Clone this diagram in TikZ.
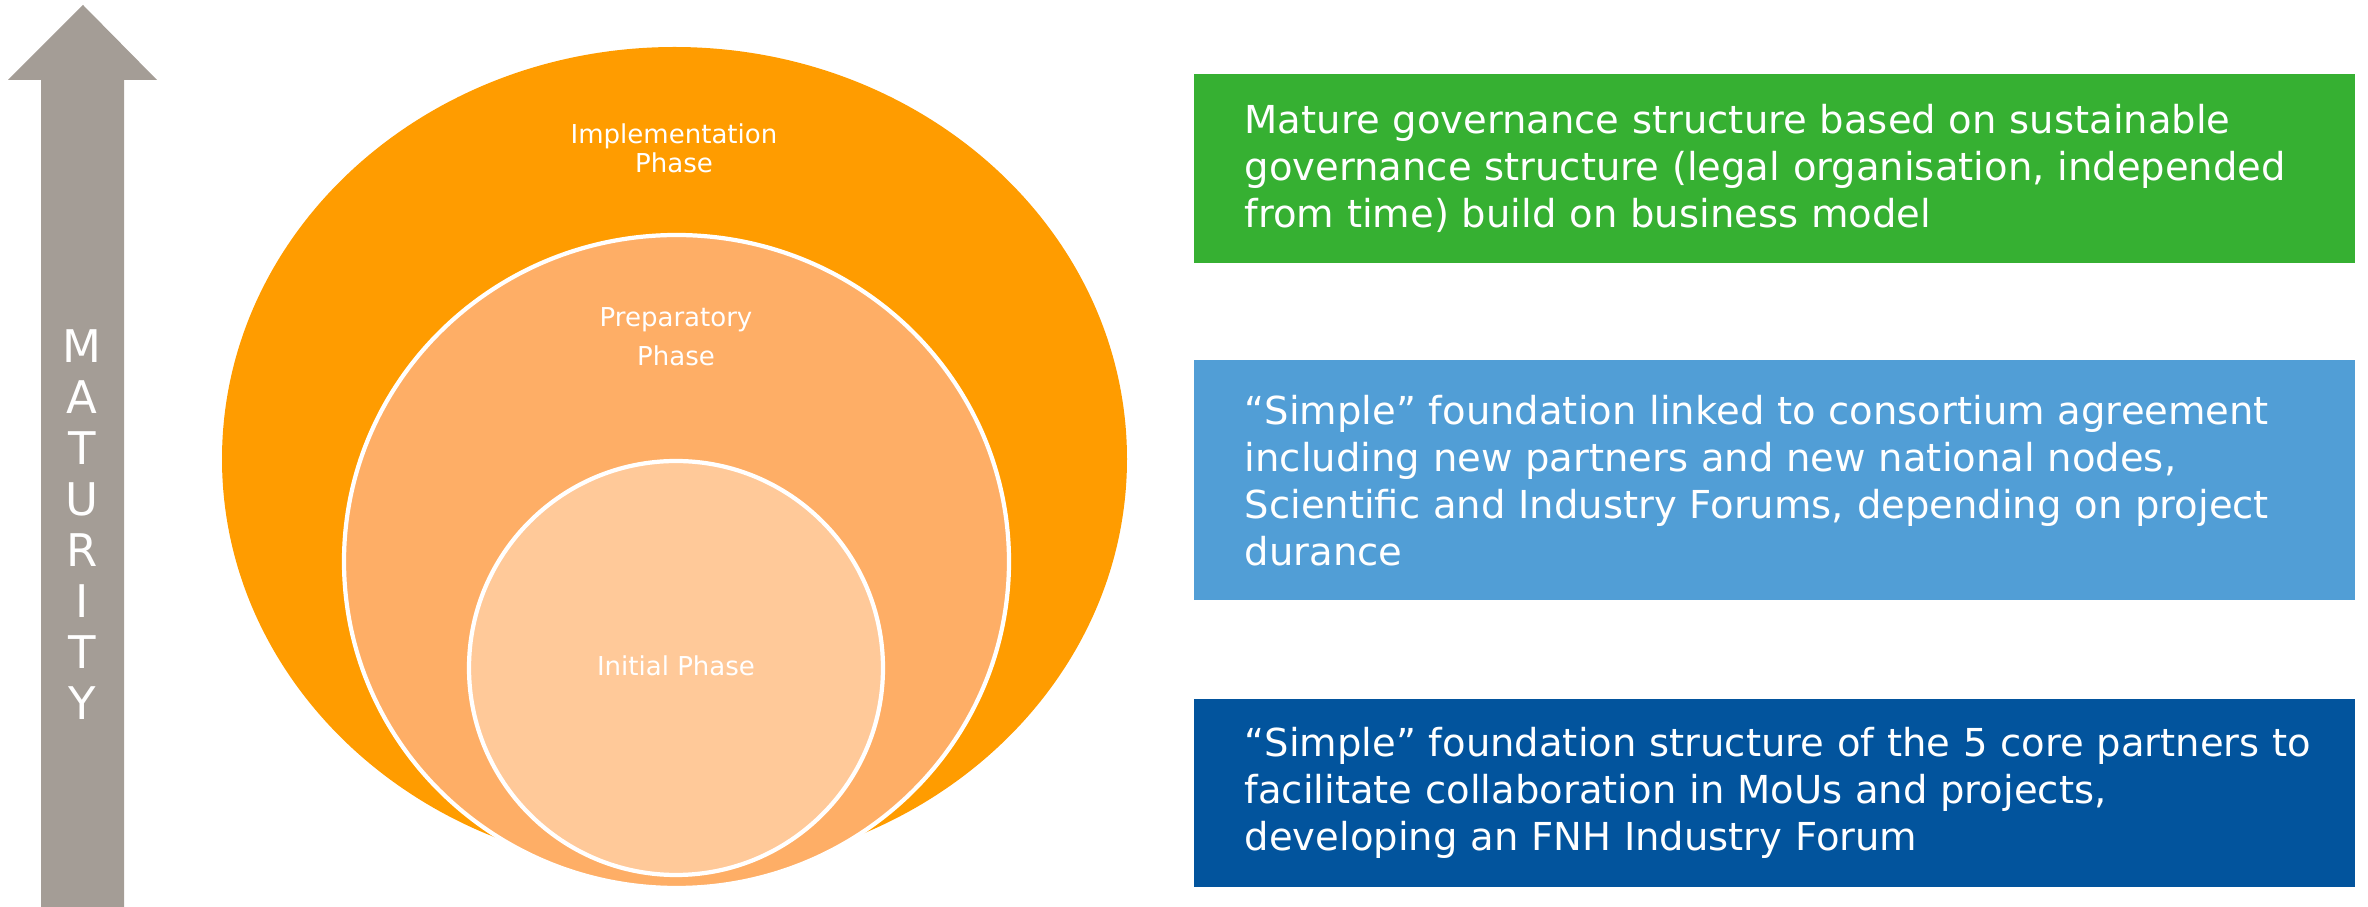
\documentclass[tikz,border=0pt]{standalone}
\usepackage{fontspec}
\setmainfont{DejaVu Sans}
\usetikzlibrary{positioning}
\definecolor{maturitygray}{RGB}{164,157,150}
\definecolor{implorange}{RGB}{255,156,0}
\definecolor{preporange}{RGB}{254,174,102}
\definecolor{initorange}{RGB}{255,201,153}
\definecolor{maturegreen}{RGB}{54,176,50}
\definecolor{simpleblue}{RGB}{81,158,214}
\definecolor{coreblue}{RGB}{2,84,157}
\tikzset{ring/.style={draw=white, line width=1.2pt},
  phase/.style={text=white, align=center, inner sep=0pt, font=\fontsize{7.4}{#1}\selectfont},
  phase/.default={8.3},
  letter/.style={text=white, anchor=base, inner sep=0pt, font=\fontsize{12.8}{15}\selectfont},
  infobox/.style={text=white, align=left, text width=10.59cm, inner xsep=0.51cm, inner ysep=0pt,
    minimum height=#1, font=\fontsize{10.95}{13.4}\selectfont}
}
\begin{document}
\begin{tikzpicture}[x=0.01cm, y=-0.01cm]
      \useasboundingbox (0,0) rectangle (2368,907);
      \fill[maturitygray] (83,5) -- (157,80) -- (124,80) -- (124,907) -- (41,907) -- (41,80) -- (8,80) -- cycle;
      \foreach \l [count=\i] in {M,A,T,U,R,I,T,Y}
        \node[letter] (maturity\i) at (82,312+51*\i) {\l};
      \fill[implorange] (674.5,459) ellipse [x radius=452.5, y radius=412];
      \filldraw[fill=preporange, ring] (676.5,561.5) ellipse [x radius=332.5, y radius=326.5];
      \filldraw[fill=initorange, ring] (676,668) circle [radius=207];
      \node[phase] (implementation) at (674,148.5) {Implementation\\Phase};
      \node[phase=11.1] (preparatory) at (676,336.5) {Preparatory\\Phase};
      \node[phase, anchor=base] (initial) at (676,676) {Initial Phase};
      \node[infobox=1.89cm, fill=maturegreen, anchor=north west] (mature) at (1193,73)
        {Mature governance structure based on sustainable\\governance structure (legal organisation, independed\\from time) build on business model};
      \node[infobox=2.40cm, fill=simpleblue, below=0.96cm of mature] (simple)
        {“Simple” foundation linked to consortium agreement\\including new partners and new national nodes,\\Scientific and Industry Forums, depending on project\\durance};
      \node[infobox=1.88cm, fill=coreblue, below=0.97cm of simple] (core)
        {\mbox{“Simple” foundation structure of the 5 core partners to}\\facilitate collaboration in MoUs and projects,\\developing an FNH Industry Forum};
\end{tikzpicture}
\end{document}
